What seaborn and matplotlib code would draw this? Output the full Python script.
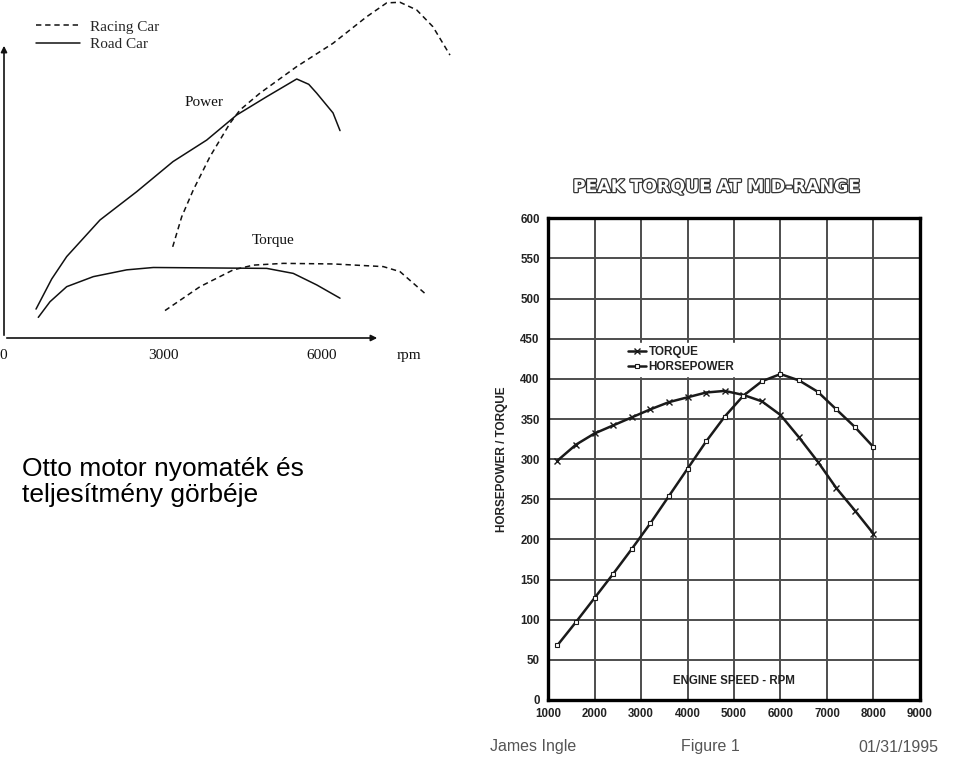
import numpy as np
import pandas as pd
import matplotlib
matplotlib.use("Agg")
import matplotlib.pyplot as plt
import matplotlib.patheffects as pe
import seaborn as sns

# ---------------- data: schematic (left) ----------------
road_power_rpm = [604, 900, 1183, 1811, 2504, 3189, 3825, 4391, 4957, 5523, 5750, 5900, 6208, 6340]
road_power_val = [9.8, 20.0, 27.6, 40.0, 49.6, 59.8, 67.1, 75.6, 81.8, 87.8, 86.0, 83.0, 76.3, 70.3]
race_power_rpm = [3183, 3353, 3572, 3887, 4264, 4453, 4830, 5523, 6208, 6843, 7221, 7472, 7787, 8094, 8415]
race_power_val = [30.9, 41.1, 50.2, 61.5, 72.8, 77.3, 83.0, 92.0, 99.9, 108.9, 113.6, 113.8, 111.2, 105.5, 95.9]
road_torque_rpm = [647, 868, 1183, 1685, 2315, 2817, 4957, 5458, 5900, 6340]
road_torque_val = [7.0, 12.3, 17.4, 20.8, 23.1, 23.9, 23.6, 21.9, 18.0, 13.5]
race_torque_rpm = [3038, 3698, 4326, 4704, 5270, 6213, 7157, 7472, 7975]
race_torque_val = [9.3, 17.4, 23.1, 24.7, 25.3, 25.1, 24.2, 22.5, 14.6]
left_xticks = [0, 3000, 6000]
left_xticklabels = ["0", "3000", "6000"]

# ---------------- data: dyno chart (right) ----------------
rpm = [1200, 1600, 2000, 2400, 2800, 3200, 3600, 4000, 4400, 4800,
       5200, 5600, 6000, 6400, 6800, 7200, 7600, 8000]
torque = [298, 318, 332, 342, 352, 362, 371, 377, 383, 385,
          380, 372, 355, 327, 297, 264, 236, 207]
horsepower = [68, 97, 127, 157, 188, 220, 254, 288, 322, 353,
              379, 397, 406, 398, 384, 362, 340, 315]
right_xticks = list(range(1000, 9001, 1000))
right_yticks = list(range(0, 601, 50))

sns.set_theme(style="white")
plt.rcParams['font.family'] = ['Liberation Sans', 'DejaVu Sans']

W, H = 960, 766
fig = plt.figure(figsize=(W / 100, H / 100), dpi=100)
fig.patch.set_facecolor("white")

def fpos(x0, y0, x1, y1):
    return [x0 / W, 1 - y1 / H, (x1 - x0) / W, (y1 - y0) / H]

# ================= LEFT schematic =================
axL = fig.add_axes(fpos(0, 0, 460, 375))
axL.set_xlim(-75.5, 8604)
axL.set_ylim((338 - 375) / 2.95, 338 / 2.95)
axL.axis("off")
lc = "#111111"
serif = ['Liberation Serif', 'DejaVu Serif']

sns.lineplot(x=race_power_rpm, y=race_power_val, ax=axL, color=lc, lw=1.1,
             linestyle=(0, (3.5, 2.5)), label="Racing Car")
sns.lineplot(x=road_power_rpm, y=road_power_val, ax=axL, color=lc, lw=1.1,
             label="Road Car")
sns.lineplot(x=race_torque_rpm, y=race_torque_val, ax=axL, color=lc, lw=1.1,
             linestyle=(0, (3.5, 2.5)), legend=False)
sns.lineplot(x=road_torque_rpm, y=road_torque_val, ax=axL, color=lc, lw=1.1,
             legend=False)

axL.annotate("", xy=(7094, 0), xytext=(0, 0),
             arrowprops=dict(arrowstyle="-|>", color=lc, lw=1.2, mutation_scale=9))
axL.annotate("", xy=(0, 100), xytext=(0, 0),
             arrowprops=dict(arrowstyle="-|>", color=lc, lw=1.2, mutation_scale=9))
for t, lab in zip(left_xticks, left_xticklabels):
    axL.text(t if t else -20, -5.8, lab, ha="center", va="center",
             fontsize=11, family=serif, color=lc)
axL.text(7642, -5.8, "rpm", ha="center", va="center", fontsize=11,
         family=serif, color=lc)
axL.text(3415, 79.7, "Power", ha="left", va="center", fontsize=11,
         family=serif, color=lc)
axL.text(4679, 33.2, "Torque", ha="left", va="center", fontsize=11,
         family=serif, color=lc)
legL = axL.legend(loc="upper left", bbox_to_anchor=(30 / 460, 1 - 14 / 375),
                  frameon=False, handlelength=2.9, handletextpad=0.6,
                  borderaxespad=0, labelspacing=0.25,
                  prop=dict(family=serif, size=11))

fig.text(22 / W, 1 - 482 / H, "Otto motor nyomaték és\nteljesítmény görbéje",
         ha="left", va="center", fontsize=19, linespacing=1.1,
         family=['Liberation Sans', 'DejaVu Sans'], color="black")

# ================= RIGHT dyno chart =================
axR = fig.add_axes(fpos(548, 218.3, 920, 700))
axR.set_xlim(1000, 9000)
axR.set_ylim(0, 600)
axR.set_xticks(right_xticks)
axR.set_yticks(right_yticks)
axR.grid(True, color="#4d4d4d", lw=1.4)
axR.set_axisbelow(True)
for s in axR.spines.values():
    s.set_visible(True)
    s.set_color("black")
    s.set_linewidth(2.4)
axR.tick_params(length=0, labelsize=8.3, pad=6, colors="#222222")
for lab in axR.get_xticklabels() + axR.get_yticklabels():
    lab.set_fontweight("bold")

dc = "#1a1a1a"
sns.lineplot(x=rpm, y=torque, ax=axR, color=dc, lw=1.8, marker="x",
             markersize=4, markeredgewidth=1.0, markeredgecolor=dc,
             label="TORQUE")
sns.lineplot(x=rpm, y=horsepower, ax=axR, color=dc, lw=1.8, marker="s",
             markersize=3.3, markerfacecolor="white", markeredgecolor=dc,
             markeredgewidth=0.8, label="HORSEPOWER")
axR.set_xlabel("")
axR.set_ylabel("HORSEPOWER / TORQUE", fontsize=8.5, fontweight="bold",
               color="#222222", labelpad=9)
axR.text(5000, 24, "ENGINE SPEED - RPM", ha="center", va="center",
         fontsize=8.3, fontweight="bold", color="#222222")
legR = axR.legend(loc="upper left", bbox_to_anchor=(78 / 372, 1 - 125 / 481.7),
                  frameon=True, fancybox=False, edgecolor="white",
                  facecolor="white", framealpha=1, handlelength=1.5,
                  handletextpad=0.2, borderpad=0.2, borderaxespad=0,
                  labelspacing=0.3, prop=dict(size=8.5, weight="bold"))
for t in legR.get_texts():
    t.set_color("#222222")

fig.text(717 / W, 1 - 187 / H, "PEAK TORQUE AT MID-RANGE", ha="center",
         va="center", fontsize=12.5, fontweight="bold", color="white",
         family=['DejaVu Sans'],
         path_effects=[pe.withStroke(linewidth=1.8, foreground="#333333")])

fig.text(490 / W, 1 - 747 / H, "James Ingle", ha="left", va="center",
         fontsize=11.5, color="#555555")
fig.text(710 / W, 1 - 747 / H, "Figure 1", ha="center", va="center",
         fontsize=11.5, color="#555555")
fig.text(938 / W, 1 - 747 / H, "01/31/1995", ha="right", va="center",
         fontsize=11.5, color="#555555")

fig.savefig("out.png", dpi=100, facecolor="white")
